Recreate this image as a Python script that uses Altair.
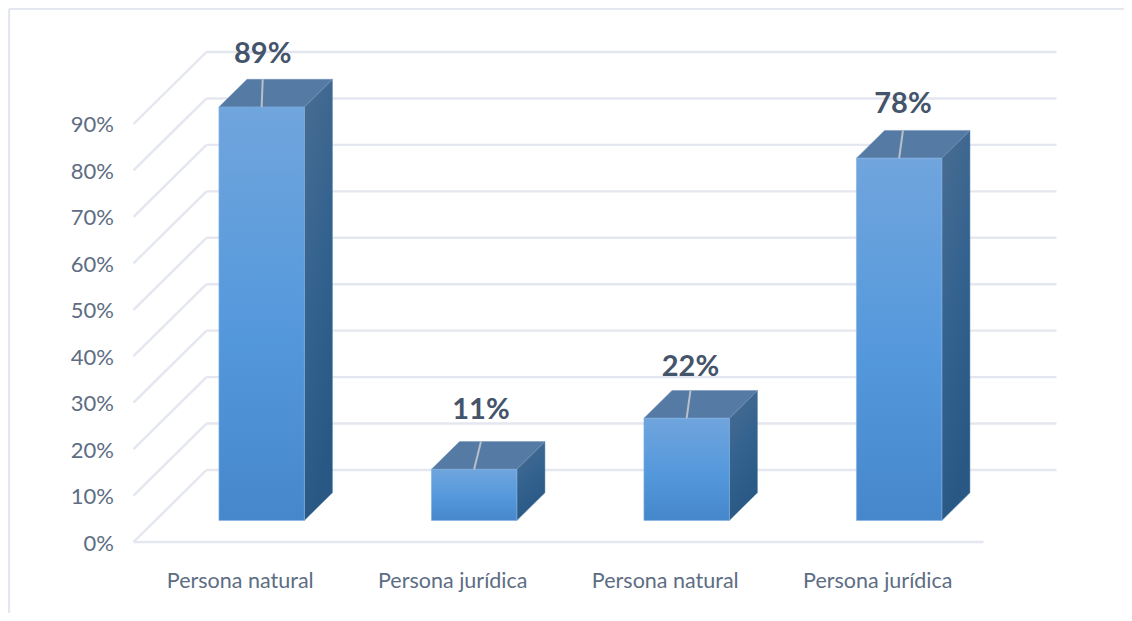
import altair as alt
import pandas as pd

categories = ["Persona natural", "Persona jurídica", "Persona natural", "Persona jurídica"]
values = [89, 11, 22, 78]
y_ticks = [0, 10, 20, 30, 40, 50, 60, 70, 80, 90]
label_rise = [5.4, 6.9, 5.1, 5.6]
leader_lean = [0.005, 0.032, 0.018, 0.018]

# oblique projection: depth 0..1 shifts right and upward in data units
DX, DY = 0.3435, 15.5
FRONT, BACK, HALF = 0.30, 0.685, 0.201
X_MAX = 4 + DX
Y_MAX = 90 + DY

x_scale = alt.Scale(domain=[0, X_MAX], nice=False, zero=False)
y_scale = alt.Scale(domain=[0, Y_MAX], nice=False, zero=False)
GRID = "#e4e7ef"
TEXT = "#5d6d83"
DARK = "#44546a"
FONT = "Lato"

x_enc = alt.X("x:Q", scale=x_scale, title=None)
y_enc = alt.Y("y:Q", scale=y_scale, title=None)
x2_enc = alt.X2("x2:Q", title=None)
y2_enc = alt.Y2("y2:Q", title=None)

# frame and walls
segments = []
frame_l, frame_t, frame_r, frame_b = -0.586, 114.8, 4.7, -17.5
segments.append(dict(x=frame_l, x2=frame_r, y=frame_t, y2=frame_t))
segments.append(dict(x=frame_l, x2=frame_l, y=frame_t, y2=frame_b))
segments.append(dict(x=0, x2=4, y=0, y2=0))
for t in y_ticks:
    segments.append(dict(x=0, x2=DX, y=t, y2=t + DY))
    segments.append(dict(x=DX, x2=4 + DX, y=t + DY, y2=t + DY))
grid = alt.Chart(pd.DataFrame(segments)).mark_rule(color=GRID, strokeWidth=2.4).encode(
    x=x_enc, x2=x2_enc, y=y_enc, y2=y2_enc)

# axes carried by an invisible layer
axis_df = pd.DataFrame({"x": [0.5, 1.5, 2.5, 3.5], "y": [0, 0, 0, 0]})
names = "[" + ",".join(f"'{c}'" for c in categories) + "]"
axes = alt.Chart(axis_df).mark_point(opacity=0).encode(
    x=alt.X("x:Q", scale=x_scale, title=None, axis=alt.Axis(
        values=[0.5, 1.5, 2.5, 3.5], labelExpr=f"{names}[floor(datum.value)]",
        domain=False, ticks=False, grid=False, labelFont=FONT, labelFontSize=21.5,
        labelColor=TEXT, labelPadding=28, labelOverlap=False, labelFlush=False)),
    y=alt.Y("y:Q", scale=y_scale, title=None, axis=alt.Axis(
        values=y_ticks, labelExpr="datum.value + '%'",
        domain=False, ticks=False, grid=False, labelFont=FONT, labelFontSize=22,
        labelColor=TEXT, labelPadding=20, labelOffset=1, labelOverlap=False, labelFlush=False)),
)

front_grad = alt.Gradient(gradient="linear", x1=0, y1=0, x2=0, y2=1, stops=[
    alt.GradientStop(offset=0, color="#70a5dd"),
    alt.GradientStop(offset=0.55, color="#5498dc"),
    alt.GradientStop(offset=1, color="#4587ca")])
side_grad = alt.Gradient(gradient="linear", x1=0, y1=0, x2=0.3, y2=1, stops=[
    alt.GradientStop(offset=0, color="#4a6d92"),
    alt.GradientStop(offset=0.5, color="#35638f"),
    alt.GradientStop(offset=1, color="#2a5884")])

front_rows, side_rows, top_rows, leader_rows, label_rows = [], [], [], [], []
for i, v in enumerate(values):
    c = i + 0.5
    fx, bx = FRONT * DX, BACK * DX
    fy, by = FRONT * DY, BACK * DY
    left, right = c - HALF + fx, c + HALF + fx
    front_rows.append(dict(x=left, x2=right, y=fy + v, y2=fy, bar=i))
    side_rows += [dict(x=right, y=fy + v, y2=fy, bar=i),
                  dict(x=right + bx - fx, y=by + v, y2=by, bar=i)]
    top_rows += [dict(y=fy + v, x=left, x2=right, bar=i),
                 dict(y=by + v, x=left + bx - fx, x2=right + bx - fx, bar=i)]
    lean = leader_lean[i]
    leader_rows.append(dict(x=c + fx, x2=c + fx + lean, y=fy + v, y2=by + v))
    label_rows.append(dict(x=c + fx + lean, y=by + v + label_rise[i], text=f"{v}%"))

fronts = [
    alt.Chart(pd.DataFrame([r])).mark_rect(color=front_grad, stroke="#7fb2e6", strokeWidth=0.6).encode(
        x=x_enc, x2=x2_enc, y=y_enc, y2=y2_enc)
    for r in front_rows
]
side = alt.Chart(pd.DataFrame(side_rows)).mark_area(color=side_grad, stroke="#5f88b2", strokeWidth=0.5).encode(
    x=x_enc, y=alt.Y("y:Q", scale=y_scale, title=None, stack=None), y2=y2_enc, detail="bar:N")
top = alt.Chart(pd.DataFrame(top_rows)).mark_area(orient="horizontal", color="#557aa4", stroke="#7093bb", strokeWidth=0.5).encode(
    y=y_enc, x=alt.X("x:Q", scale=x_scale, title=None, stack=None), x2=x2_enc, detail="bar:N")
leaders = alt.Chart(pd.DataFrame(leader_rows)).mark_rule(color="#b7c0cb", strokeWidth=2).encode(
    x=x_enc, x2=x2_enc, y=y_enc, y2=y2_enc)
labels = alt.Chart(pd.DataFrame(label_rows)).mark_text(
    font=FONT, fontSize=29, fontWeight="bold", color=DARK, baseline="middle", align="center").encode(
    x=x_enc, y=y_enc, text="text:N")

chart = alt.layer(axes, grid, side, top, *fronts, leaders, labels).properties(
    width=923, height=490,
    padding={"left": 125.5, "top": 44, "right": 67.5, "bottom": 71},
    autosize=alt.AutoSizeParams(type="none"),
    background="white",
).configure_view(stroke=None)

chart.save("out.html", embed_options={"renderer": "svg", "actions": False})
